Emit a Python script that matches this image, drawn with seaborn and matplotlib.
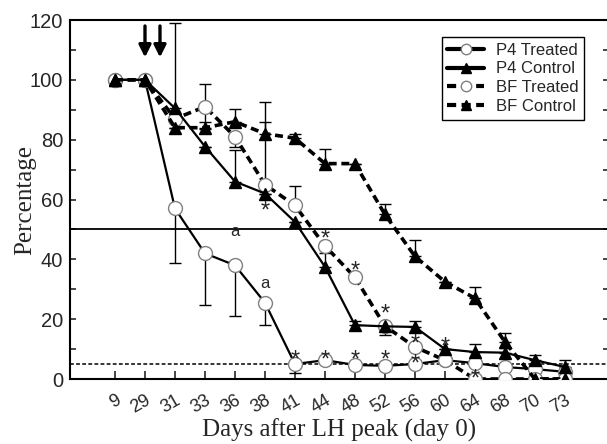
import numpy as np
import pandas as pd
import matplotlib
matplotlib.use('Agg')
import matplotlib.pyplot as plt
import seaborn as sns
from matplotlib.ticker import MultipleLocator

days = ['9', '29', '31', '33', '36', '38', '41', '44', '48', '52', '56', '60', '64', '68', '70', '73']

p4_treated = [100, 100, 57, 42, 38, 25.5, 5, 6.3, 4.7, 4.4, 5, 6.3, 5.3, 4, 3.3, 2.4]
p4_treated_lo = [0, 0, 18.3, 17.3, 17, 7.5, 3, 0, 0, 0, 0, 0, 0, 0, 0, 0]
p4_treated_hi = [0] * 16

p4_control = [100, 100, 90.5, 77.7, 66, 62, 52.5, 37.5, 18, 17.6, 17.4, 10, 9, 8.8, 6.3, 4]
p4_control_lo = [0] * 16
p4_control_hi = [0, 0, 28.5, 0, 10.6, 0, 0, 4.5, 1.4, 0, 2, 0, 2.7, 1.6, 1.7, 2.5]

bf_treated = [100, 100, 87, 91, 81, 65, 58, 44.5, 34, 17.7, 10.7, 6.3, 0, 0, 0, 0]
bf_treated_lo = [0, 0, 0, 7.5, 3.4, 0, 0, 0, 0, 3, 0, 0, 0, 0, 0, 0]
bf_treated_hi = [0, 0, 0, 7.5, 0, 27.6, 6.5, 0, 0, 0, 0, 0, 0, 0, 0, 0]

bf_control = [100, 100, 84, 84, 86, 82, 80.5, 72, 72, 55, 41, 32.5, 27, 12.4, 0, 0]
bf_control_lo = [0] * 16
bf_control_hi = [0, 0, 0, 2, 4.3, 4, 1.5, 5, 0, 3.5, 5.5, 0, 3.8, 3, 0, 0]

# significance marks: (day index, y of the mark centre)
stars = [(5, 58.5), (6, 8.7), (7, 8.7), (8, 8.7), (9, 8.7), (10, 7.3),
         (7, 49), (8, 38.3), (9, 24), (10, 14), (11, 13), (12, 2.3)]
letters = [(4, 49.3), (5, 32)]

series = [
    ('P4 Treated', p4_treated, p4_treated_lo, p4_treated_hi, '-', 'o'),
    ('P4 Control', p4_control, p4_control_lo, p4_control_hi, '-', '^'),
    ('BF Treated', bf_treated, bf_treated_lo, bf_treated_hi, (0, (2.2, 1.3)), 'o'),
    ('BF Control', bf_control, bf_control_lo, bf_control_hi, (0, (2.2, 1.3)), '^'),
]

sns.set_style('ticks')
plt.rcParams['font.family'] = ['Liberation Sans', 'DejaVu Sans']

fig = plt.figure(figsize=(6.07, 4.44), dpi=100)
ax = fig.add_axes([70 / 607, 1 - 379 / 444, 539 / 607, 359 / 444])

pos = np.arange(len(days))

# error bars first so markers sit on top
for name, vals, lo, hi, ls, mk in series:
    ax.errorbar(pos, vals, yerr=[lo, hi], fmt='none', ecolor='black',
                elinewidth=1.0, capsize=4.5, capthick=1.0, zorder=2)

for name, vals, lo, hi, ls, mk in series:
    is_bf = name.startswith('BF')
    df = pd.DataFrame({'pos': pos, 'val': vals})
    sns.lineplot(data=df, x='pos', y='val', ax=ax, color='black',
                 linestyle=ls, lw=2.6 if is_bf else 1.6,
                 marker=mk, markersize=10 if mk == 'o' else 8.5,
                 markerfacecolor='white' if mk == 'o' else 'black',
                 markeredgecolor='#808080' if mk == 'o' else 'black',
                 markeredgewidth=1.0, label=name,
                 zorder=3 if mk == 'o' else 4)

ax.axhline(50, color='black', lw=1.3, zorder=1)
ax.axhline(5, color='black', lw=1.1, ls=(0, (2.5, 1.5)), zorder=1)

# asterisk glyph sits high in the line box, so anchor on the baseline
for xi, yv in stars:
    ax.text(xi, yv - 4.4, '*', ha='center', va='baseline', fontsize=17, zorder=5)
for xi, yv in letters:
    ax.text(xi, yv, 'a', ha='center', va='center', fontsize=12, zorder=5)

for xa in [1, 1.5]:
    ax.annotate('', xy=(xa, 107.5), xytext=(xa, 118),
                arrowprops=dict(arrowstyle='-|>', lw=2.4, color='black',
                                mutation_scale=18, shrinkA=0, shrinkB=0))

ax.set_xlim(-1.5, 16.47)
ax.set_ylim(0, 120)
ax.set_xticks(pos)
ax.set_xticklabels(days, rotation=30, ha='right', rotation_mode='anchor', fontsize=13)
ax.yaxis.set_major_locator(MultipleLocator(20))
ax.yaxis.set_minor_locator(MultipleLocator(10))
ax.tick_params(axis='y', which='both', direction='in', left=True, right=True,
               length=4, width=1.2, labelsize=14.5, pad=5)
ax.tick_params(axis='x', direction='in', length=6, width=1.2, pad=9)

for side in ['left', 'bottom', 'top', 'right']:
    ax.spines[side].set_visible(True)
    ax.spines[side].set_linewidth(1.5)
    ax.spines[side].set_color('black')

ax.set_xlabel('Days after LH peak (day 0)', family='Liberation Serif', fontsize=18)
ax.set_ylabel('Percentage', family='Liberation Serif', fontsize=18)
ax.xaxis.set_label_coords(0.5, -0.11)
ax.xaxis.label.set_va('top')
ax.yaxis.set_label_coords(-0.063, 0.5)

leg = ax.legend(loc='upper right', bbox_to_anchor=(0.954, 0.953), fontsize=12,
                frameon=True, fancybox=False, edgecolor='black', framealpha=1,
                handlelength=2.2, handletextpad=0.7, labelspacing=0.22,
                borderpad=0.35, borderaxespad=0)
leg.get_frame().set_linewidth(1.0)
for h in leg.get_lines():
    h.set_linewidth(3.0)
    h.set_markersize(7.5)

fig.savefig('out.png', dpi=100)
